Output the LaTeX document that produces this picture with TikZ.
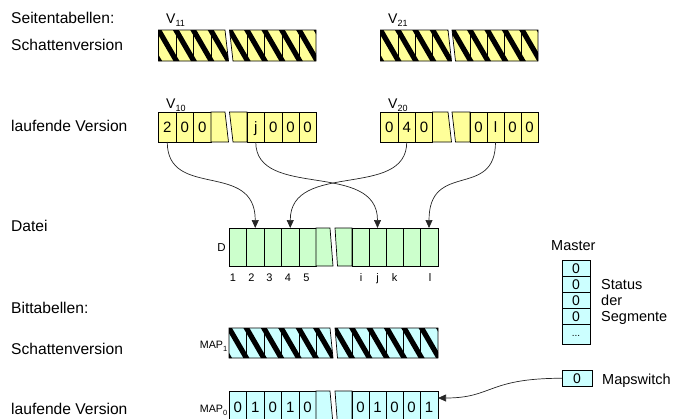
\documentclass[tikz,border=0pt]{standalone}
\usepackage{fontspec}
\setmainfont{Liberation Sans}
\usetikzlibrary{arrows.meta}
\definecolor{yel}{HTML}{FFFF99}
\definecolor{grn}{HTML}{CCFFCC}
\definecolor{cyn}{HTML}{CCFFFF}
% hatched part: #1 colour, #2 top-left x, #3 top-right x, #4 bottom-right x, #5 bottom-left x, #6 top, #7 bottom, #8 inner lines, #9 stripe phase
\newcommand\HPart[9]{%
  \begin{scope}
    \clip (#2,#6) -- (#3,#6) -- (#4,#7) -- (#5,#7) -- cycle;
    \fill[#1] (#2,#6) -- (#3,#6) -- (#4,#7) -- (#5,#7) -- cycle;
    \foreach \k in {-2,...,7} \draw[stripe] ({#9+\k*17.4-17.4},{#6-30}) -- ++(52.2,90);
  \end{scope}
  \draw[border] (#2,#6) -- (#3,#6) -- (#4,#7) -- (#5,#7) -- cycle;
  \foreach \x in {#8} \draw[border] (\x,#6) -- (\x,#7);
}
\begin{document}
\begin{tikzpicture}[x=1pt,y=-1pt,
  lbl/.style={anchor=base west, inner sep=0pt, font=\fontsize{15.6}{18}\selectfont},
  rlbl/.style={anchor=base west, inner sep=0pt, font=\fontsize{14.5}{17}\selectfont},
  cell/.style={draw=black, line width=0.7pt, inner sep=0pt, outer sep=0pt, anchor=north west,
    font=\fontsize{15}{15}\selectfont, text height=10.7pt, text depth=0pt},
  border/.style={draw=black, line width=0.7pt},
  stripe/.style={line width=5.2pt, black},
  small/.style={inner sep=0pt, font=\fontsize{11}{11}\selectfont, anchor=base},
  vlab/.style={anchor=base west, inner sep=0pt, font=\fontsize{14}{14}\selectfont},
  maplab/.style={anchor=base east, inner sep=0pt, font=\fontsize{10.7}{11}\selectfont},
  conn/.style={line width=0.7pt, draw=black!85, -{Triangle[length=8pt,width=7pt]}}
]
\useasboundingbox (0,0) rectangle (676,418);
\clip (0,0) rectangle (676,418);

% ---------- left labels ----------
\node[lbl] (t1) at (11,23) {Seitentabellen:};
\node[lbl] (t2) at (11,50) {Schattenversion};
\node[lbl] (t3) at (11,131) {laufende Version};
\node[lbl] (t4) at (11,231) {Datei};
\node[lbl] (t5) at (11,313) {Bittabellen:};
\node[lbl] (t6) at (11,354) {Schattenversion};
\node[lbl] (t7) at (11,414) {laufende Version};

% ---------- V labels ----------
\node[vlab] (lv11) at (166,23) {V\raisebox{-3pt}{\fontsize{9}{9}\selectfont 11}};
\node[vlab] (lv21) at (388,23) {V\raisebox{-3pt}{\fontsize{9}{9}\selectfont 21}};
\node[vlab] (lv10) at (166,108) {V\raisebox{-3pt}{\fontsize{9}{9}\selectfont 10}};
\node[vlab] (lv20) at (388,108) {V\raisebox{-3pt}{\fontsize{9}{9}\selectfont 20}};

% ---------- shadow page tables (hatched) ----------
\HPart{yel}{158.5}{225}{228.5}{158.5}{30}{61}{176,193.5,211}{158.5}
\HPart{yel}{229.5}{316}{316}{233}{30}{61}{247,264.5,282,299}{247}
\HPart{yel}{380.5}{448}{451.5}{380.5}{30}{61}{398,415.5,432.5}{380.5}
\HPart{yel}{452}{538}{538}{455.5}{30}{61}{470,487,504,521}{470}

% ---------- current page tables ----------
\foreach \n/\x/\w/\t in {v10a/158.5/17.5/2, v10b/176/17.5/0, v10c/193.5/17.5/0}
  \node[cell, fill=yel, minimum width=\w pt, minimum height=30pt] (\n) at (\x,112) {\t};
\draw[border, fill=yel] (211,112) -- (225,112) -- (228.5,142) -- (211,142) -- cycle;
\draw[border, fill=yel] (229.5,112) -- (247,112) -- (247,142) -- (233,142) -- cycle;
\foreach \n/\x/\w/\t in {v10e/247/17.5/j, v10f/264.5/17.5/0, v10g/282/17/0, v10h/299/17/0}
  \node[cell, fill=yel, minimum width=\w pt, minimum height=30pt] (\n) at (\x,112) {\t};

\foreach \n/\x/\w/\t in {v20a/380.5/17.5/0, v20b/398/17.5/4, v20c/415.5/17/0}
  \node[cell, fill=yel, minimum width=\w pt, minimum height=30pt] (\n) at (\x,112) {\t};
\draw[border, fill=yel] (432.5,112) -- (448,112) -- (451.5,142) -- (432.5,142) -- cycle;
\draw[border, fill=yel] (452,112) -- (470,112) -- (470,142) -- (455.5,142) -- cycle;
\foreach \n/\x/\w/\t in {v20e/470/17/0, v20f/487/17/l, v20g/504/17/0, v20h/521/17/0}
  \node[cell, fill=yel, minimum width=\w pt, minimum height=30pt] (\n) at (\x,112) {\t};

% ---------- file D ----------
\node[small, font=\fontsize{11.5}{12}\selectfont] (dlab) at (221.5,251.5) {D};
\foreach \n/\x/\w in {d1/229/17.5, d2/246.5/17.5, d3/264/17.5, d4/281.5/17.5, d5/299/17}
  \node[cell, fill=grn, minimum width=\w pt, minimum height=38pt] (\n) at (\x,228) {};
\draw[border, fill=grn] (316,228) -- (330,228) -- (333,266) -- (316,266) -- cycle;
\draw[border, fill=grn] (335,228) -- (352,228) -- (352,266) -- (337.5,266) -- cycle;
\foreach \n/\x/\w in {di/352/17, dj/369/17, dk/386/17, dm/403/17, dl/420/18}
  \node[cell, fill=grn, minimum width=\w pt, minimum height=38pt] (\n) at (\x,228) {};
\foreach \n/\x/\t in {n1/233/1, n2/251.5/2, n3/269.5/3, n4/288/4, n5/306.5/5, ni/361/i, nj/377.5/j, nk/394.5/k, nl/430/l}
  \node[small] (\n) at (\x,281) {\t};

% ---------- connectors page tables -> file ----------
\draw[conn] (v10a.south) .. controls +(0,58) and +(0,-68) .. (d2.north);
\draw[conn] (v10e.south) .. controls +(0,58) and +(0,-68) .. (dj.north);
\draw[conn] (v20b.south) .. controls +(0,58) and +(0,-68) .. (d4.north);
\draw[conn] (v20f.south) .. controls +(0,58) and +(0,-68) .. (dl.north);

% ---------- master ----------
\node[rlbl] (master) at (551,250) {Master};
\foreach \n/\y/\h in {mc1/260/16, mc2/276/16, mc3/292/16, mc4/308/16}
  \node[cell, fill=cyn, minimum width=28pt, minimum height=\h pt, font=\fontsize{14}{14}\selectfont, text height=10pt] (\n) at (562,\y) {0};
\node[cell, fill=cyn, minimum width=28pt, minimum height=20pt, font=\fontsize{10}{10}\selectfont, text height=4pt] (mc5) at (562,324) {...};
\node[rlbl] (st1) at (601,289) {Status};
\node[rlbl] (st2) at (601,305) {der};
\node[rlbl] (st3) at (601,321) {Segmente};

% ---------- bit tables ----------
\node[maplab] (lmap1) at (227.5,348) {MAP\raisebox{-3.5pt}{\fontsize{7.5}{8}\selectfont 1}};
\HPart{cyn}{229}{330}{333}{229}{328}{358}{246.5,264,281.5,299,316}{229}
\HPart{cyn}{335}{438}{438}{337.5}{328}{358}{352,369,386,403,420}{352}

\node[maplab] (lmap0) at (227.5,412) {MAP\raisebox{-3.5pt}{\fontsize{7.5}{8}\selectfont 0}};
\foreach \n/\x/\w/\t in {m0a/229/17.5/0, m0b/246.5/17.5/1, m0c/264/17.5/0, m0d/281.5/17.5/1, m0e/299/17/0}
  \node[cell, fill=cyn, minimum width=\w pt, minimum height=33pt] (\n) at (\x,391) {\t};
\draw[border, fill=cyn] (316,391) -- (330,391) -- (333,424) -- (316,424) -- cycle;
\draw[border, fill=cyn] (335,391) -- (352,391) -- (352,424) -- (337.5,424) -- cycle;
\foreach \n/\x/\w/\t in {m0f/352/17/0, m0g/369/17/1, m0h/386/17/0, m0i/403/17/0, m0j/420/18/1}
  \node[cell, fill=cyn, minimum width=\w pt, minimum height=33pt] (\n) at (\x,391) {\t};

% ---------- map switch ----------
\node[cell, fill=cyn, minimum width=30pt, minimum height=15.5pt, font=\fontsize{14}{14}\selectfont, text height=10pt] (ms) at (562,370.5) {0};
\node[rlbl] (mslab) at (602,384) {Mapswitch};
\draw[conn] (ms.west) .. controls +(-75,0) and +(55,0) .. ([yshift=-7pt]m0j.north east);
\end{tikzpicture}
\end{document}
